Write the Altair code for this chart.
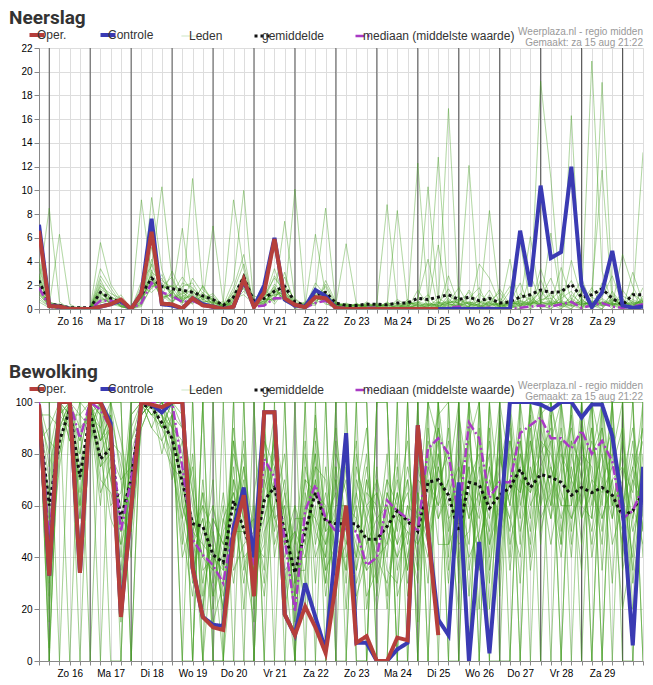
import altair as alt
import pandas as pd

# 6-hourly steps from Sa 15 aug 18:00, in hours
hours = list(range(0, 360, 6))
day_labels = ["Zo 16", "Ma 17", "Di 18", "Wo 19", "Do 20", "Vr 21", "Za 22",
              "Zo 23", "Ma 24", "Di 25", "Wo 26", "Do 27", "Vr 28", "Za 29"]

series_names = ["Oper.", "Controle", "Leden", "gemiddelde", "mediaan (middelste waarde)"]
series_colors = ["#b53f3b", "#3a3ab3", "#45a022", "#111111", "#a93ac4"]
series_dash = [[1, 0], [1, 0], [1, 0], [3, 3], [9, 3, 2, 3]]
series_widths = [4, 4, 1, 3, 2.5]
series_opacity = [1, 1, 0.3, 1, 1]

credit_lines = ["Weerplaza.nl - regio midden", "Gemaakt: za 15 aug 21:22"]

# ---------------- Neerslag (mm) ----------------
neerslag_oper = [
    6.6, 0.25, 0.2, 0, 0, 0, 0.2, 0.4, 0.8, 0,
    1.3, 6.5, 0.45, 0.4, 0.05, 0.9, 0.3, 0.2, 0, 0.2,
    2.5, 0.15, 1.4, 5.9, 0.9, 0.35, 0.15, 1.0, 0.9, 0.1,
    0, 0, 0, 0, 0, 0, 0, 0, 0, 0]
neerslag_controle = [
    7.1, 0.3, 0.2, 0, 0, 0, 0.2, 0.4, 0.7, 0,
    1.3, 7.6, 0.4, 0.3, 0.05, 0.9, 0.4, 0.2, 0, 0.2,
    2.4, 0.2, 2.0, 6.0, 0.8, 0.3, 0.2, 1.6, 1.1, 0.1,
    0, 0, 0, 0, 0, 0, 0, 0, 0, 0,
    0, 0, 0, 0, 0, 0, 0, 6.6, 1.9, 10.4,
    4.3, 4.8, 12.0, 2.0, 0.15, 1.4, 4.9, 0.3, 0.1, 0.2]
neerslag_gemiddelde = [
    2.4, 0.4, 0.3, 0.1, 0.1, 0.1, 1.4, 0.9, 0.6, 0.1,
    1.2, 2.6, 1.9, 1.7, 1.6, 1.4, 1.1, 0.8, 0.3, 1.0,
    2.7, 0.6, 0.9, 1.5, 1.9, 0.6, 0.3, 1.2, 1.4, 0.5,
    0.3, 0.3, 0.4, 0.4, 0.35, 0.5, 0.5, 0.9, 0.8, 1.0,
    1.2, 0.8, 1.0, 0.7, 0.9, 0.5, 0.6, 1.0, 1.2, 1.6,
    1.4, 1.45, 2.1, 1.0, 1.2, 1.7, 0.9, 0.35, 1.2, 1.2]
neerslag_mediaan = [
    1.8, 0.2, 0, 0, 0, 0, 0.7, 0.7, 0.5, 0,
    0.5, 2.2, 1.4, 1.1, 0.6, 0.7, 0.3, 0.1, 0, 0.1,
    2.2, 0.2, 0.3, 0.9, 0.9, 0.2, 0.1, 0.5, 0.7, 0,
    0, 0, 0.1, 0.1, 0, 0, 0, 0, 0, 0,
    0.1, 0.2, 0, 0.1, 0.1, 0, 0, 0.1, 0.2, 0.3,
    0.2, 0.4, 0.6, 0.1, 0.3, 0.5, 0.2, 0.1, 0.2, 0.4]
neerslag_leden = [
    [2.1, 8.5, 0.6, 0, 0, 0, 1.2, 0.8, 0.3, 0,
     0.5, 3.1, 2.4, 1.8, 0.7, 1.2, 0.4, 0.2, 0, 0.8,
     2.6, 0.2, 0.4, 1.0, 1.8, 0.3, 0, 0.6, 1.4, 0.2,
     0, 0, 0.3, 0, 0, 0, 0.2, 0.9, 4.2, 0,
     1.2, 0.4, 0, 3.8, 2.6, 0.5, 0, 0.6, 6.1, 0.4,
     0, 1.1, 2.4, 0.6, 20.9, 3.2, 0.4, 0, 1.3, 0.6],
    [1.4, 0.3, 6.3, 0.4, 0, 0, 2.2, 1.0, 0.6, 0,
     1.6, 2.4, 1.1, 3.2, 1.4, 0.8, 0.3, 0.6, 0.2, 1.5,
     3.8, 0.4, 0.2, 2.1, 1.2, 0, 0.3, 1.1, 0.5, 0,
     0, 0.4, 0, 0, 0.6, 0, 0, 0, 0.3, 5.4,
     0.2, 0, 1.6, 0.3, 0, 0, 4.2, 0, 0.4, 1.0,
     2.6, 0.3, 0, 0.8, 0.2, 19.1, 1.4, 0, 0.3, 0.8],
    [4.2, 0.6, 0.2, 0, 0, 0, 5.6, 2.1, 0.8, 0,
     0.3, 5.2, 1.6, 0.5, 2.2, 1.8, 0.9, 0.2, 0, 0.3,
     1.9, 1.1, 0.8, 3.4, 0.9, 0.4, 0, 1.8, 0.7, 0,
     0.2, 0, 0, 0.5, 0, 0, 0.8, 0, 0, 0.2,
     2.8, 0.3, 0, 0, 0.6, 1.4, 0.2, 0, 2.9, 0.6,
     0.4, 3.5, 0.8, 0, 1.6, 11.7, 0.5, 0.3, 0, 1.8],
    [0.8, 0.2, 0, 0, 0, 0, 0.6, 0.4, 0.2, 0,
     9.2, 2.8, 0.7, 1.4, 0.5, 2.6, 1.3, 0.8, 0.4, 0.2,
     2.2, 0.5, 1.8, 0.6, 3.1, 0.2, 0.4, 0.3, 2.4, 0.6,
     0, 0, 0, 0.2, 0.4, 0, 0, 1.6, 0.3, 0,
     0.5, 1.8, 0.3, 0, 1.2, 0, 0.6, 2.2, 0, 0.5,
     1.4, 0, 0.7, 2.6, 0.3, 0, 0.9, 0.2, 0.6, 13.2],
    [3.5, 0.4, 0.3, 0.2, 0, 0, 1.6, 0.3, 1.2, 0,
     0.6, 9.4, 3.3, 0.9, 1.1, 0.4, 2.0, 0.6, 0.1, 1.8,
     4.6, 0.2, 0.5, 1.4, 2.0, 0.8, 0.2, 2.2, 1.1, 0.4,
     0.3, 0, 0.6, 0, 0, 0.3, 0, 0.4, 0, 0.6,
     0, 0.4, 0.9, 1.8, 0, 0.3, 1.5, 5.8, 0.2, 3.4,
     0.8, 1.6, 0.3, 0, 0.5, 1.0, 2.8, 0.4, 0, 0.3],
    [1.2, 0.3, 0.1, 0, 0.2, 0, 2.8, 1.5, 0.4, 0,
     2.3, 3.6, 10.3, 2.5, 0.6, 1.5, 0.8, 1.1, 0.3, 0.6,
     1.5, 0.6, 1.1, 2.6, 1.5, 0.3, 0.5, 0.8, 1.9, 0.2,
     0, 0.2, 0, 0, 0.3, 0.5, 0, 0, 0.7, 0,
     0.9, 0, 0.3, 0.4, 1.6, 0, 0, 0.9, 1.3, 0,
     0.6, 0.2, 4.1, 0.9, 0, 2.2, 0.3, 4.6, 1.9, 0.2],
    [2.6, 0.5, 0.4, 0, 0, 0, 0.9, 0.6, 0.3, 0,
     0.4, 1.8, 2.9, 1.2, 6.8, 0.9, 0.5, 0.3, 0, 1.2,
     2.9, 0.3, 0.3, 0.9, 2.7, 0.5, 0.2, 1.5, 0.8, 0.5,
     0.4, 0.3, 0.2, 0, 0, 0.8, 0.3, 0, 0.2, 0.9,
     0.4, 1.1, 0, 0.2, 0.3, 1.7, 0.4, 0, 0.6, 1.5,
     0.3, 0.9, 1.5, 0.2, 0.7, 0.4, 1.2, 0, 3.1, 0.5],
    [1.8, 0.2, 0.3, 0.1, 0, 0, 1.4, 0.5, 0.7, 0,
     1.1, 2.2, 1.9, 2.7, 0.8, 11.0, 1.6, 0.9, 0.2, 0.5,
     2.1, 0.8, 0.6, 1.7, 1.1, 0.2, 0, 1.0, 1.3, 0.3,
     0, 0, 0.5, 0.3, 0, 0, 0.6, 0.2, 0, 0.4,
     1.7, 0.2, 0.5, 0, 0.7, 0.4, 0, 1.3, 0.8, 0.2,
     6.4, 0.5, 0, 1.1, 0.4, 0.8, 0, 1.6, 0.4, 0.7],
    [0.6, 0.1, 0, 0, 0, 0, 3.4, 1.8, 0.5, 0,
     0.9, 4.2, 1.2, 0.4, 1.9, 2.2, 0.7, 7.0, 0.5, 0.9,
     1.2, 0.4, 1.4, 0.4, 1.6, 0.6, 0.3, 0.5, 0.9, 0,
     0.2, 0, 0, 0.4, 0.2, 0, 0, 0.5, 1.2, 0,
     0.3, 0.6, 1.4, 0, 0.2, 0.9, 0.3, 0.5, 0, 2.5,
     0.4, 0, 1.2, 0.5, 1.8, 0.2, 0.6, 0.9, 0, 1.1],
    [3.0, 0.4, 0.2, 0, 0, 0, 0.5, 0.9, 0.2, 0,
     1.4, 2.6, 0.8, 1.6, 0.3, 0.6, 1.9, 0.5, 0.6, 9.2,
     3.3, 0.7, 0.9, 1.9, 0.7, 0.4, 0.2, 1.3, 0.6, 0.3,
     0, 0.5, 0, 0, 0, 0.4, 0.2, 0.3, 0, 0.2,
     0.6, 0, 0.2, 1.3, 0.5, 0, 0.8, 0.2, 1.1, 0.3,
     0, 0.7, 0.4, 1.8, 0, 0.6, 0.4, 0.2, 1.4, 0],
    [1.5, 0.3, 0.2, 0, 0, 0.1, 1.9, 1.3, 0.9, 0,
     0.7, 3.8, 1.5, 0.9, 1.3, 1.6, 0.4, 0.2, 0.3, 2.4,
     10.0, 0.3, 0.7, 2.8, 1.3, 0.3, 0.6, 0.4, 2.1, 0.4,
     0.3, 0, 0.2, 0, 0.4, 0, 0.5, 0, 0.4, 0.3,
     0, 0.9, 0.5, 0.2, 0, 0.6, 1.9, 0.3, 0.5, 0.7,
     1.2, 0.3, 0.6, 0, 1.0, 0.5, 0.2, 1.1, 0.6, 0.4],
    [2.3, 0.6, 0.3, 0.2, 0, 0, 1.1, 0.4, 0.6, 0,
     1.9, 1.4, 2.2, 1.1, 0.7, 0.5, 1.2, 0.4, 0, 0.7,
     2.4, 0.2, 1.2, 1.1, 7.4, 0.9, 0.2, 0.7, 1.0, 0.2,
     0.5, 0.2, 0, 0, 0.2, 0, 0.4, 0.6, 0, 0,
     0.4, 0.2, 0, 0.5, 0.9, 0.2, 0.5, 0.7, 0.3, 1.6,
     0.5, 0.4, 0.9, 0.3, 0.6, 0, 1.5, 0.3, 0.2, 0.9],
    [1.0, 0.2, 0, 0, 0, 0, 2.5, 0.7, 0.2, 0,
     0.2, 2.0, 1.7, 2.0, 1.6, 1.0, 0.6, 0.7, 0.2, 1.4,
     1.7, 0.5, 0.4, 1.6, 0.8, 10.1, 0.4, 1.2, 0.4, 0.3,
     0, 0.3, 0.4, 0, 0, 0.2, 0, 0.2, 0.5, 0.3,
     0.7, 0.5, 0.2, 0, 0.4, 0.3, 0, 0.4, 0.9, 0.4,
     0.2, 1.3, 0.5, 0.4, 0.2, 0.9, 0.3, 0, 0.5, 0.3],
    [3.8, 0.5, 0.2, 0, 0, 0, 0.8, 0.6, 0.4, 0,
     1.3, 2.9, 0.9, 1.3, 2.7, 1.4, 1.0, 0.5, 0.4, 0.4,
     3.0, 0.4, 0.9, 0.7, 1.4, 0.2, 0.3, 6.3, 1.2, 0.5,
     0.2, 0, 0, 0.3, 0, 0.3, 0, 0.4, 0.2, 0.5,
     0.2, 0.3, 0.6, 0.3, 0.2, 0, 0.4, 0.6, 0.4, 0.8,
     0.9, 0.2, 0.3, 0.7, 0.3, 0.4, 0.7, 0.5, 0.3, 0.6],
    [2.0, 0.3, 0.4, 0.1, 0, 0, 1.7, 1.1, 0.5, 0,
     0.6, 2.3, 1.4, 0.7, 1.0, 1.7, 0.9, 1.3, 0.2, 1.0,
     2.3, 0.6, 0.5, 1.3, 1.0, 0.5, 0.4, 1.6, 8.5, 0.2,
     0.4, 0, 0.3, 0.2, 0, 0, 0.3, 0, 0.3, 0.2,
     0.5, 0.8, 0.4, 0.2, 0.5, 0.4, 0.2, 0.3, 0.7, 0.3,
     0.4, 0.6, 0.2, 0.5, 0.4, 0.3, 0.5, 0.2, 0.8, 0.4],
    [1.6, 0.4, 0.2, 0, 0, 0, 1.3, 0.9, 0.3, 0,
     1.0, 1.7, 2.6, 1.0, 0.9, 1.1, 0.5, 0.9, 0.3, 0.6,
     1.8, 0.5, 0.6, 1.0, 1.7, 0.4, 0.1, 0.9, 0.7, 0.4,
     5.5, 0.4, 0.2, 0.5, 8.8, 0.4, 0.6, 0.3, 0.4, 0.6,
     0.3, 0.4, 0.2, 0.7, 0.3, 0.5, 0.3, 0.2, 0.5, 0.6,
     0.3, 0.4, 0.7, 0.2, 0.3, 0.5, 0.4, 0.6, 0.2, 0.5],
    [2.8, 0.3, 0.3, 0, 0.1, 0, 1.0, 0.5, 0.6, 0,
     0.8, 2.7, 1.8, 1.9, 1.2, 0.7, 1.4, 0.3, 0.2, 0.8,
     2.7, 0.3, 1.0, 1.5, 1.2, 0.3, 0.3, 1.4, 0.8, 0.3,
     0.3, 0.2, 0.4, 0.3, 0.3, 8.3, 0.4, 0.5, 0.3, 0.4,
     16.9, 0.4, 0.6, 0.3, 0.5, 0.2, 0.4, 0.5, 0.3, 0.4,
     0.5, 0.3, 0.4, 0.6, 0.2, 0.3, 0.4, 0.3, 0.4, 0.2],
    [1.3, 0.2, 0.1, 0, 0, 0, 2.0, 0.8, 0.2, 0,
     0.4, 3.3, 1.0, 1.2, 0.8, 1.3, 0.6, 0.6, 0.1, 0.5,
     2.0, 0.4, 0.5, 1.8, 0.6, 0.3, 0.2, 1.1, 1.5, 0.2,
     0.2, 0.4, 0.3, 0.2, 0.5, 0.3, 0.2, 12.3, 0.6, 12.8,
     0.4, 0.3, 0.5, 0.6, 0.3, 0.4, 0.6, 0.3, 0.4, 0.5,
     0.7, 0.5, 0.3, 0.4, 0.6, 0.4, 0.3, 0.5, 0.4, 0.6],
    [2.4, 0.4, 0.2, 0.1, 0, 0, 1.5, 0.6, 0.4, 0,
     1.2, 1.9, 2.0, 1.5, 0.5, 0.9, 0.8, 0.4, 0.3, 1.1,
     2.5, 0.2, 0.7, 1.2, 1.4, 0.4, 0.5, 0.8, 1.2, 0.3,
     0.3, 0.3, 0.2, 0.4, 0.3, 0.2, 0.5, 0.4, 10.3, 0.5,
     0.6, 0.5, 12.1, 0.4, 0.6, 0.3, 0.5, 0.4, 0.6, 19.2,
     11.0, 0.4, 0.6, 0.5, 0.4, 0.6, 0.5, 0.4, 0.6, 0.5],
    [1.9, 0.3, 0.3, 0, 0, 0, 0.7, 1.0, 0.5, 0,
     0.9, 2.5, 1.3, 0.6, 1.5, 0.6, 1.1, 0.8, 0.2, 0.9,
     2.8, 0.5, 0.8, 0.8, 0.9, 0.2, 0.3, 1.0, 0.9, 0.4,
     0.4, 0.3, 0.3, 0.2, 0.4, 0.5, 0.3, 0.6, 0.4, 0.3,
     0.5, 0.7, 0.4, 0.3, 8.3, 0.6, 0.4, 0.7, 0.5, 0.4,
     0.6, 0.5, 16.3, 0.4, 0.6, 0.5, 0.8, 0.4, 0.5, 0.7],
]

# ---------------- Bewolking (%) ----------------
bewolking_oper = [
    99, 33, 100, 100, 34, 100, 100, 90, 17, 59,
    100, 99, 98, 100, 100, 36, 17, 13, 12, 48,
    64, 25, 96, 96, 18, 10, 21, 13, 3, 30,
    60, 7, 9.6, 0, 0, 9, 8, 91, 50, 10]
bewolking_controle = [
    99, 33, 100, 100, 34, 100, 100, 92, 18, 59,
    100, 99, 96, 100, 100, 36, 17, 14, 13.5, 51,
    67, 40, 96, 96, 18, 10, 30, 17, 4, 45,
    88, 7, 7, 0, 0, 4.5, 7, 91, 50, 16,
    10, 69, 0, 46, 3, 51, 100, 100, 100, 99,
    97, 100, 100, 94, 99, 99, 87, 60, 6, 75]
bewolking_gemiddelde = [
    93, 60, 85, 97, 71, 96, 78, 82, 55, 70,
    99, 98, 92, 86, 69, 53, 52, 41, 38, 62,
    51, 40, 62, 67, 50, 34, 50, 65, 54, 53,
    53, 53, 47, 47, 52, 58, 54, 50, 69, 70,
    64, 50, 69, 68, 59, 64, 67, 74, 67, 72,
    71, 69, 64, 67, 65, 67, 64, 56, 58, 65]
bewolking_mediaan = [
    100, 45, 100, 100, 86, 100, 97, 90, 50, 70,
    100, 100, 100, 100, 75, 47, 41, 37, 30, 53,
    61, 37, 78, 71, 47, 19, 58, 68, 55, 50,
    51, 50, 37, 40, 62, 58, 55, 50, 82, 86,
    80, 55, 92, 86, 63, 69, 69, 88, 91, 94,
    86, 86, 82, 89, 80, 85, 77, 55, 58, 67]
bewolking_leden = [
    [100, 20, 95, 100, 60, 100, 85, 90, 30, 70,
     100, 100, 90, 80, 40, 55, 0, 45, 20, 85,
     40, 15, 70, 95, 35, 0, 60, 80, 40, 75,
     20, 65, 90, 30, 55, 80, 25, 60, 100, 85,
     40, 95, 70, 20, 100, 60, 90, 45, 100, 80,
     55, 100, 70, 35, 90, 60, 100, 40, 70, 85],
    [95, 60, 100, 100, 80, 100, 70, 65, 50, 95,
     100, 95, 100, 90, 75, 30, 65, 20, 55, 40,
     75, 50, 25, 60, 80, 30, 45, 70, 25, 55,
     70, 30, 45, 75, 20, 60, 85, 35, 75, 95,
     100, 30, 85, 100, 45, 80, 60, 100, 70, 95,
     100, 75, 40, 85, 55, 100, 65, 20, 45, 70],
    [100, 85, 80, 100, 95, 90, 100, 80, 70, 40,
     95, 100, 100, 100, 90, 70, 20, 60, 35, 70,
     20, 65, 90, 40, 65, 45, 85, 30, 75, 40,
     55, 85, 20, 50, 70, 35, 55, 80, 45, 65,
     85, 60, 100, 75, 30, 95, 40, 80, 55, 100,
     70, 45, 100, 60, 100, 80, 30, 90, 20, 55],
    [90, 45, 100, 85, 100, 95, 60, 100, 85, 65,
     100, 90, 85, 95, 60, 45, 55, 25, 40, 90,
     55, 30, 55, 75, 25, 60, 30, 95, 50, 85,
     40, 55, 80, 25, 60, 45, 70, 15, 90, 55,
     70, 100, 35, 60, 80, 40, 100, 65, 90, 45,
     85, 100, 60, 100, 70, 45, 90, 55, 100, 40],
    [100, 5, 90, 100, 45, 100, 95, 75, 60, 100,
     100, 100, 95, 70, 85, 60, 40, 70, 15, 55,
     80, 25, 85, 55, 60, 20, 75, 55, 30, 60,
     85, 20, 60, 45, 80, 25, 40, 65, 30, 80,
     55, 20, 90, 45, 65, 100, 75, 30, 85, 60,
     95, 60, 85, 45, 80, 100, 55, 75, 65, 100],
    [95, 70, 100, 90, 70, 85, 100, 90, 25, 85,
     95, 100, 100, 85, 50, 25, 70, 35, 60, 30,
     60, 45, 40, 90, 45, 35, 50, 65, 60, 25,
     60, 45, 35, 65, 40, 75, 30, 50, 85, 70,
     30, 75, 55, 85, 20, 70, 50, 85, 40, 75,
     60, 85, 45, 75, 100, 35, 80, 100, 30, 60],
    [100, 35, 75, 100, 85, 100, 80, 55, 45, 60,
     100, 95, 90, 100, 95, 65, 45, 15, 30, 75,
     35, 55, 80, 65, 40, 50, 20, 85, 45, 70,
     30, 70, 55, 40, 30, 55, 65, 45, 60, 100,
     65, 50, 75, 35, 90, 25, 85, 55, 100, 70,
     45, 70, 95, 55, 65, 80, 45, 60, 85, 50],
    [85, 90, 100, 95, 55, 100, 90, 100, 70, 75,
     90, 100, 95, 90, 70, 40, 20, 55, 45, 65,
     50, 35, 65, 85, 55, 25, 65, 40, 55, 90,
     50, 35, 70, 55, 45, 65, 35, 75, 55, 80,
     50, 85, 25, 70, 55, 85, 35, 70, 65, 90,
     75, 55, 70, 90, 40, 65, 100, 35, 55, 75],
    [100, 15, 100, 100, 90, 95, 75, 85, 15, 90,
     100, 100, 85, 75, 55, 75, 35, 40, 0, 45,
     70, 20, 75, 50, 70, 40, 40, 60, 35, 45,
     75, 25, 40, 70, 55, 40, 50, 30, 70, 60,
     90, 40, 65, 55, 75, 50, 70, 90, 35, 65,
     100, 80, 55, 70, 90, 55, 70, 45, 75, 90],
    [95, 55, 85, 100, 75, 90, 100, 70, 55, 50,
     100, 90, 100, 95, 80, 50, 60, 30, 50, 60,
     30, 60, 30, 70, 30, 55, 55, 75, 70, 35,
     45, 60, 25, 35, 65, 50, 75, 55, 40, 75,
     60, 65, 45, 90, 35, 65, 55, 40, 75, 55,
     65, 40, 80, 60, 55, 90, 60, 80, 50, 65],
    [100, 75, 95, 90, 40, 100, 85, 95, 40, 80,
     95, 100, 90, 100, 65, 35, 50, 60, 40, 80,
     65, 40, 60, 80, 50, 15, 55, 90, 55, 65,
     35, 80, 50, 20, 50, 70, 45, 70, 65, 90,
     75, 35, 80, 65, 50, 75, 95, 60, 80, 100,
     60, 90, 65, 80, 75, 50, 85, 65, 40, 80],
    [90, 25, 100, 100, 65, 95, 100, 85, 80, 55,
     100, 95, 100, 80, 45, 80, 25, 50, 30, 50,
     85, 30, 50, 60, 20, 45, 70, 50, 40, 80,
     65, 40, 65, 60, 35, 30, 60, 40, 80, 45,
     45, 80, 60, 40, 70, 55, 65, 75, 50, 85,
     80, 65, 55, 65, 85, 70, 55, 85, 60, 45],
    [100, 50, 90, 95, 95, 100, 65, 75, 35, 70,
     100, 100, 95, 85, 75, 55, 40, 35, 65, 35,
     45, 50, 90, 45, 60, 35, 35, 70, 50, 55,
     55, 50, 75, 45, 70, 60, 35, 65, 50, 70,
     80, 55, 70, 80, 40, 90, 45, 65, 95, 50,
     70, 85, 50, 95, 60, 85, 65, 50, 70, 60],
    [95, 80, 100, 85, 80, 100, 95, 60, 65, 85,
     100, 100, 80, 95, 60, 45, 65, 45, 20, 70,
     55, 35, 45, 90, 65, 30, 80, 45, 65, 40,
     80, 35, 55, 70, 25, 55, 70, 50, 60, 85,
     35, 70, 85, 60, 85, 35, 80, 50, 70, 80,
     90, 50, 75, 55, 70, 65, 75, 90, 35, 70],
    [100, 40, 95, 100, 55, 90, 80, 90, 50, 75,
     95, 100, 100, 90, 85, 65, 30, 55, 45, 55,
     75, 25, 70, 55, 45, 60, 45, 80, 30, 70,
     45, 65, 45, 55, 60, 45, 55, 35, 75, 60,
     70, 45, 50, 75, 60, 80, 60, 85, 60, 70,
     55, 75, 90, 70, 50, 75, 90, 55, 80, 55],
    [85, 65, 100, 95, 85, 100, 75, 80, 20, 65,
     100, 95, 95, 75, 70, 40, 55, 25, 55, 65,
     40, 45, 55, 70, 35, 40, 60, 55, 45, 60,
     60, 55, 35, 40, 45, 65, 40, 60, 45, 75,
     55, 60, 40, 50, 75, 45, 70, 65, 85, 60,
     75, 60, 60, 85, 65, 55, 70, 75, 55, 90],
    [100, 30, 80, 100, 70, 95, 90, 70, 45, 95,
     100, 100, 90, 95, 90, 50, 45, 40, 35, 85,
     60, 30, 85, 75, 55, 25, 70, 65, 55, 50,
     35, 75, 60, 65, 50, 40, 60, 55, 70, 55,
     65, 75, 55, 65, 45, 60, 85, 70, 45, 85,
     65, 80, 70, 60, 80, 90, 60, 70, 90, 65],
    [95, 95, 90, 100, 60, 100, 85, 95, 75, 50,
     90, 100, 95, 85, 55, 35, 60, 50, 25, 50,
     50, 55, 35, 85, 45, 50, 40, 75, 35, 75,
     50, 40, 70, 30, 65, 55, 50, 45, 55, 90,
     45, 55, 75, 45, 65, 70, 55, 80, 65, 75,
     85, 45, 85, 75, 45, 70, 80, 60, 75, 50],
    [100, 0, 100, 100, 0, 100, 100, 100, 0, 100,
     100, 100, 100, 100, 100, 100, 0, 0, 0, 100,
     100, 0, 100, 100, 0, 0, 100, 100, 0, 100,
     0, 100, 100, 0, 0, 100, 0, 100, 100, 0,
     100, 100, 0, 100, 0, 100, 100, 100, 0, 100,
     100, 0, 100, 100, 0, 100, 100, 0, 0, 100],
    [100, 100, 100, 100, 100, 100, 100, 100, 100, 0,
     100, 100, 100, 100, 0, 0, 100, 0, 100, 0,
     0, 100, 0, 100, 100, 0, 0, 100, 100, 0,
     100, 0, 0, 100, 100, 0, 100, 0, 100, 100,
     0, 0, 100, 0, 100, 0, 0, 100, 100, 100,
     0, 100, 100, 0, 100, 0, 100, 100, 100, 0],
    [100, 100, 0, 100, 100, 0, 100, 100, 100, 100,
     100, 100, 100, 100, 100, 0, 100, 100, 0, 0,
     100, 100, 0, 0, 100, 100, 0, 0, 100, 100,
     100, 0, 0, 100, 100, 0, 0, 100, 0, 100,
     100, 0, 100, 100, 0, 0, 100, 0, 100, 100,
     100, 100, 0, 100, 100, 100, 0, 100, 100, 100],
    [100, 0, 100, 100, 100, 100, 0, 100, 100, 0,
     100, 100, 100, 100, 0, 100, 0, 100, 100, 100,
     0, 0, 100, 100, 100, 0, 100, 0, 0, 100,
     100, 100, 100, 0, 0, 100, 100, 0, 100, 100,
     0, 100, 100, 0, 100, 100, 0, 100, 100, 0,
     100, 100, 100, 100, 0, 100, 100, 100, 0, 100],
    [100, 100, 100, 0, 100, 100, 100, 0, 0, 100,
     100, 100, 100, 100, 100, 0, 100, 0, 0, 100,
     100, 0, 100, 0, 0, 100, 100, 100, 100, 0,
     0, 100, 0, 100, 100, 0, 100, 100, 0, 100,
     100, 100, 0, 100, 100, 100, 100, 0, 100, 100,
     100, 0, 100, 100, 100, 0, 100, 100, 100, 0],
]

for member in neerslag_leden + bewolking_leden:
    assert len(member) == len(hours)

WIDTH = 604
FONT = "Liberation Sans"
day_starts = [6 + 24 * i for i in range(len(day_labels) + 1)]
label_array = "[" + ",".join("'" + d + "'" for d in day_labels) + "]"
label_expr = (f"(datum.value - 18) % 24 == 0 && datum.value < {hours[-1]} "
              f"? {label_array}[(datum.value - 18) / 24] : ''")
names_array = "[" + ",".join("'" + n + "'" for n in series_names) + "]"
width_expr = f"{series_widths}[indexof({names_array}, datum.value)]"
opacity_expr = f"{series_opacity}[indexof({names_array}, datum.value)]"


def table(values, serie, lid=0):
    return pd.DataFrame({"uur": hours[:len(values)], "waarde": values,
                         "serie": serie, "lid": lid})


def panel(title, oper, controle, gemiddelde, mediaan, leden, ymax, ystep, height,
          leden_opacity):
    # non-breaking spaces keep a small gap between the stroke symbol and its label
    legend = alt.Legend(title=None, orient="none", legendX=-2, legendY=-13,
                        direction="horizontal", columns=5, symbolType="stroke",
                        symbolSize=225, columnPadding=25, labelOffset=2,
                        labelExpr="'\u00a0\u00a0' + datum.label",
                        labelFontSize=12, labelColor="#333", labelFont=FONT,
                        symbolStrokeWidth=alt.ExprRef(expr=width_expr),
                        symbolOpacity=alt.ExprRef(expr=opacity_expr))
    x = alt.X("uur:Q", title=None,
              scale=alt.Scale(domain=[0, hours[-1]], nice=False, zero=False),
              axis=alt.Axis(values=hours, labelExpr=label_expr, labelOverlap=False,
                            labelFlush=False, tickSize=4, labelPadding=3))
    y = alt.Y("waarde:Q", title=None,
              scale=alt.Scale(domain=[0, ymax], nice=False),
              axis=alt.Axis(values=list(range(0, ymax + 1, ystep)), tickSize=5,
                            labelPadding=2, minExtent=27, maxExtent=27))
    color = alt.Color("serie:N", legend=legend,
                      scale=alt.Scale(domain=series_names, range=series_colors))
    dash = alt.StrokeDash("serie:N", legend=legend,
                          scale=alt.Scale(domain=series_names, range=series_dash))

    days = alt.Chart(pd.DataFrame({"uur": day_starts})).mark_rule(
        color="#555", strokeWidth=1).encode(x=x)

    leden_df = pd.concat([table(m, "Leden", i) for i, m in enumerate(leden)])
    layers = [days,
              alt.Chart(leden_df).mark_line(strokeWidth=1, opacity=leden_opacity, clip=True)
              .encode(x=x, y=y, color=color, strokeDash=dash, detail="lid:N")]
    for values, name in [(gemiddelde, "gemiddelde"),
                         (mediaan, "mediaan (middelste waarde)"),
                         (controle, "Controle"), (oper, "Oper.")]:
        w = series_widths[series_names.index(name)]
        layers.append(alt.Chart(table(values, name)).mark_line(strokeWidth=w, clip=True)
                      .encode(x=x, y=y, color=color, strokeDash=dash))

    credit = alt.Chart(pd.DataFrame({"bron": [credit_lines[0]]})).mark_text(
        align="right", baseline="top", fontSize=10, lineHeight=11,
        color="#999", font=FONT).encode(
        x=alt.value(WIDTH), y=alt.value(-21), text=alt.value(credit_lines))
    layers.append(credit)

    return alt.layer(*layers).properties(
        width=WIDTH, height=height,
        title=alt.TitleParams(title, anchor="start", frame="bounds", dx=-3,
                              fontSize=19, fontWeight="bold", color="#333",
                              font="Roboto", offset=-1))


top = panel("Neerslag", neerslag_oper, neerslag_controle, neerslag_gemiddelde,
            neerslag_mediaan, neerslag_leden, 22, 2, 261, 0.45)
bottom = panel("Bewolking", bewolking_oper, bewolking_controle, bewolking_gemiddelde,
               bewolking_mediaan, bewolking_leden, 100, 20, 259, 0.55)

chart = alt.vconcat(top, bottom, spacing=35).resolve_scale(
    y="independent", color="independent", strokeDash="independent"
).resolve_legend(color="independent", strokeDash="independent").configure_view(
    stroke="#333", strokeWidth=1
).configure_axis(
    grid=True, gridColor="#dcdcdc", domainColor="#333", tickColor="#333",
    labelColor="#333", labelFont=FONT, labelFontSize=12
).configure(padding=0)

chart.save("out.html", embed_options={"renderer": "svg", "actions": False})
